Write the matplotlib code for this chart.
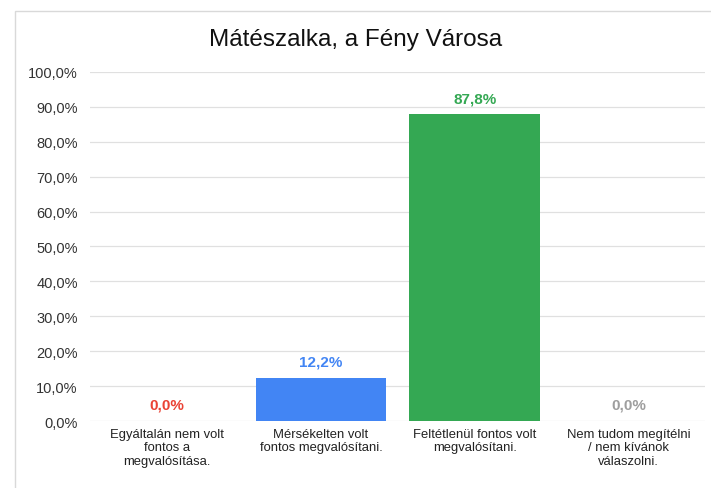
import matplotlib.pyplot as plt
from matplotlib.patches import Rectangle

# Survey answers and their shares (%)
categories = ['Egyáltalán nem volt\nfontos a\nmegvalósítása.',
              'Mérsékelten volt\nfontos megvalósítani.',
              'Feltétlenül fontos volt\nmegvalósítani.',
              'Nem tudom megítélni\n/ nem kívánok\nválaszolni.']
values = [0.0, 12.2, 87.8, 0.0]
colors = ['#EA4335', '#4285F4', '#34A853', '#9E9E9E']
yticks = list(range(0, 101, 10))

plt.rcParams['font.family'] = ['Liberation Sans', 'DejaVu Sans']

fig = plt.figure(figsize=(7.11, 4.89), dpi=100)
ax = fig.add_axes([0.127, 0.137, 0.865, 0.714])

# light frame around the chart area
fig.patches.append(Rectangle((15 / 711, -0.1), 1.0, 1 - 12 / 489 + 0.1,
                             transform=fig.transFigure, fill=False,
                             edgecolor='#d9d9d9', linewidth=1.0))

x = range(len(categories))
ax.bar(x, values, width=0.85, color=colors, zorder=2)

for i, v in enumerate(values):
    ax.text(i, v + 2.7, f'{v:.1f}%'.replace('.', ','), ha='center', va='bottom',
            color=colors[i], fontsize=11, fontweight='bold')

ax.set_ylim(0, 100)
ax.set_xlim(-0.5, len(categories) - 0.5)
ax.set_yticks(yticks)
ax.set_yticklabels([f'{t:.1f}%'.replace('.', ',') for t in yticks], fontsize=10.5, color='#333333')
ax.set_xticks(list(x))
ax.set_xticklabels(categories, fontsize=9.4, color='#222222', linespacing=1.15)
ax.tick_params(axis='y', length=0, pad=9)
ax.tick_params(axis='x', length=0, pad=5)

ax.grid(axis='y', color='#e0e0e0', linewidth=0.9, zorder=0)
for s in ax.spines.values():
    s.set_visible(False)

fig.text(0.5, 1 - 40 / 489, 'Mátészalka, a Fény Városa', ha='center', va='center',
         fontsize=17.5, color='#111111')

fig.savefig('out.png', dpi=100)
